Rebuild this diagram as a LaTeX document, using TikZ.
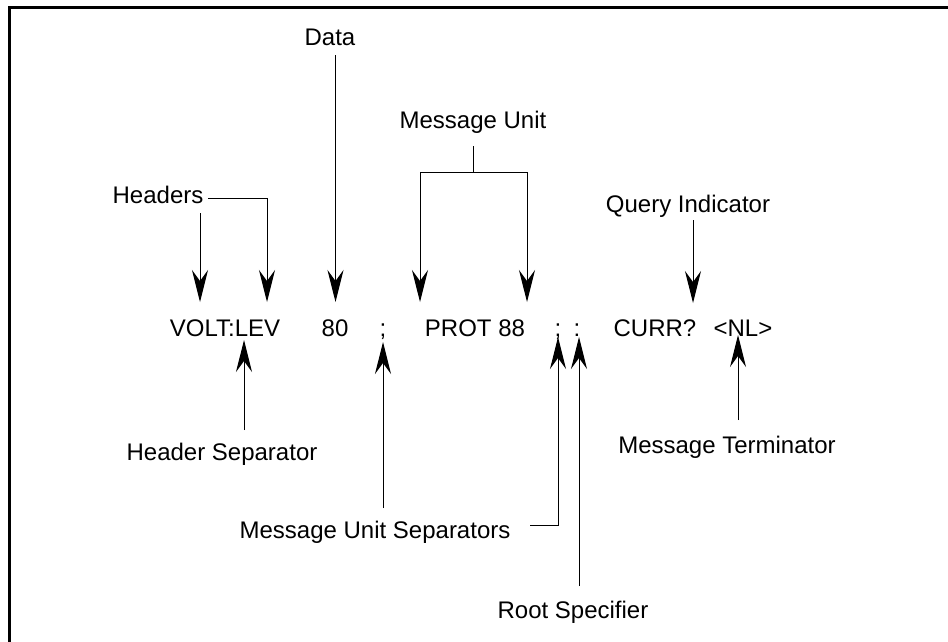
\documentclass[tikz,border=0pt]{standalone}
\usepackage{fontspec}
\setmainfont{Liberation Sans}
\usetikzlibrary{arrows.meta}
\begin{document}
\begin{tikzpicture}[x=1pt,y=-1pt,
  lbl/.style={anchor=base,inner sep=0pt,font=\fontsize{24}{28}\selectfont},
  conn/.style={line width=1pt,draw=black},
  arr/.style={conn,-{Stealth[length=32pt,width=16pt,inset=11pt]}},
  frameline/.style={line width=3pt,draw=black}]
\useasboundingbox (0,0) rectangle (948,641);
% frame
\draw[frameline] (9,645) -- (9,7) -- (952,7);
% upper labels
\node[lbl] (data) at (330,45) {Data};
\node[lbl] (msgunit) at (473,128) {Message Unit};
\node[lbl] (headers) at (158,203) {Headers};
\node[lbl] (query) at (688,212) {Query Indicator};
% message row
\node[lbl] (volt) at (225,336) {VOLT:LEV};
\node[lbl] (eighty) at (335,336) {80};
\node[lbl] (semiA) at (383,336) {;};
\node[lbl] (prot) at (475,336) {PROT 88};
\node[lbl] (semiB) at (558,336) {;};
\node[lbl] (colon) at (577,336) {:};
\node[lbl] (curr) at (655,336) {CURR?};
\node[lbl] (nl) at (743,336) {<NL>};
% lower labels
\node[lbl] (hsep) at (222,460) {Header Separator};
\node[lbl] (term) at (727,453) {Message Terminator};
\node[lbl] (mus) at (375,538) {Message Unit Separators};
\node[lbl] (root) at (573,618) {Root Specifier};
% connector coordinates
\coordinate (dataTop) at (335.5,55);
\coordinate (dataTip) at (335.5,302);
\coordinate (hdrL) at (208,198);
\coordinate (hdrCorner) at (267,198);
\coordinate (hdrTipR) at (267,302);
\coordinate (hdrTopL) at (200,213);
\coordinate (hdrTipL) at (200,302);
\coordinate (muTop) at (473,146);
\coordinate (muJoin) at (473,172);
\coordinate (muTipL) at (420,302);
\coordinate (muTipR) at (527,302);
\coordinate (qTop) at (693,220);
\coordinate (qTip) at (693,303);
\coordinate (hsTail) at (244,430);
\coordinate (hsTip) at (244,340);
\coordinate (sATail) at (383,508);
\coordinate (sATip) at (383,342);
\coordinate (musEnd) at (530,525);
\coordinate (sBTip) at (558,337);
\coordinate (rootTail) at (579,586);
\coordinate (rootTip) at (579,337);
\coordinate (nlTail) at (738,420);
\coordinate (nlTip) at (738,335);
% connectors
\draw[arr] (dataTop) -- (dataTip);
\draw[arr] (hdrL) -- (hdrCorner) -- (hdrTipR);
\draw[arr] (hdrTopL) -- (hdrTipL);
\draw[conn] (muTop) -- (muJoin);
\draw[arr] (muJoin) -| (muTipL);
\draw[arr] (muJoin) -| (muTipR);
\draw[arr] (qTop) -- (qTip);
\draw[arr] (hsTail) -- (hsTip);
\draw[arr] (sATail) -- (sATip);
\draw[arr] (musEnd) -| (sBTip);
\draw[arr] (rootTail) -- (rootTip);
\draw[arr] (nlTail) -- (nlTip);
\end{tikzpicture}
\end{document}
